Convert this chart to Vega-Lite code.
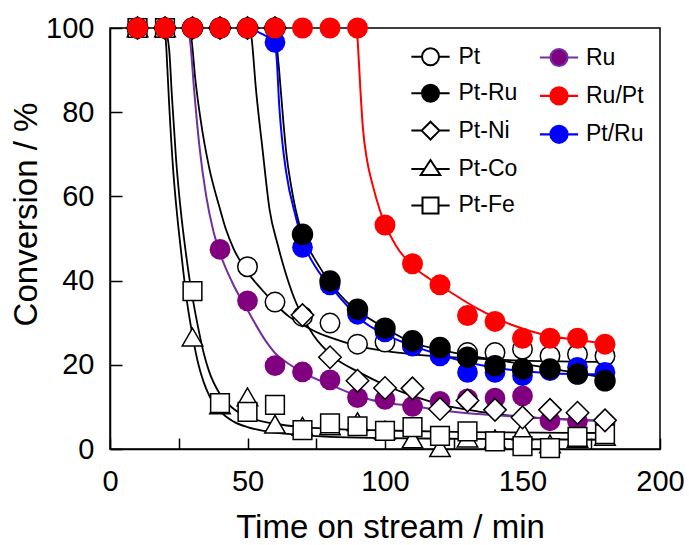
{
"$schema": "https://vega.github.io/schema/vega-lite/v6.json",
"width": 550, "height": 421,
"autosize": "none",
"padding": {"left": 110, "top": 28, "right": 29, "bottom": 96},
"config": {"font": "Liberation Sans", "view": {"stroke": "black", "strokeWidth": 1.5}},
"datasets": {
"pts": [
{"sample":"Ru","t":10,"conv":100},{"sample":"Ru","t":20,"conv":100},{"sample":"Ru","t":30,"conv":100},{"sample":"Ru","t":40,"conv":47.4},{"sample":"Ru","t":50,"conv":35.2},{"sample":"Ru","t":60,"conv":19.8},{"sample":"Ru","t":70,"conv":18.3},{"sample":"Ru","t":80,"conv":16.4},{"sample":"Ru","t":90,"conv":12.2},{"sample":"Ru","t":100,"conv":11.8},{"sample":"Ru","t":110,"conv":10.1},{"sample":"Ru","t":120,"conv":11.3},{"sample":"Ru","t":130,"conv":11.9},{"sample":"Ru","t":140,"conv":12.1},{"sample":"Ru","t":150,"conv":12.6},{"sample":"Ru","t":160,"conv":6.7},{"sample":"Ru","t":170,"conv":6.6},{"sample":"Ru","t":180,"conv":6.2},
{"sample":"Pt","t":10,"conv":100},{"sample":"Pt","t":20,"conv":100},{"sample":"Pt","t":30,"conv":100},{"sample":"Pt","t":40,"conv":100},{"sample":"Pt","t":50,"conv":43.3},{"sample":"Pt","t":60,"conv":34.9},{"sample":"Pt","t":70,"conv":31.5},{"sample":"Pt","t":80,"conv":29.9},{"sample":"Pt","t":90,"conv":24.9},{"sample":"Pt","t":100,"conv":25.4},{"sample":"Pt","t":110,"conv":24.5},{"sample":"Pt","t":120,"conv":23.3},{"sample":"Pt","t":130,"conv":22.9},{"sample":"Pt","t":140,"conv":22.9},{"sample":"Pt","t":150,"conv":23.7},{"sample":"Pt","t":160,"conv":22.1},{"sample":"Pt","t":170,"conv":22.5},{"sample":"Pt","t":180,"conv":22.1},
{"sample":"Pt-Co","t":10,"conv":100},{"sample":"Pt-Co","t":20,"conv":100},{"sample":"Pt-Co","t":30,"conv":26.6},{"sample":"Pt-Co","t":40,"conv":10.5},{"sample":"Pt-Co","t":50,"conv":12.4},{"sample":"Pt-Co","t":60,"conv":5.9},{"sample":"Pt-Co","t":70,"conv":5.4},{"sample":"Pt-Co","t":80,"conv":5.5},{"sample":"Pt-Co","t":90,"conv":6.5},{"sample":"Pt-Co","t":100,"conv":4.5},{"sample":"Pt-Co","t":110,"conv":2.4},{"sample":"Pt-Co","t":120,"conv":0.3},{"sample":"Pt-Co","t":130,"conv":2.6},{"sample":"Pt-Co","t":140,"conv":2.4},{"sample":"Pt-Co","t":150,"conv":4.3},{"sample":"Pt-Co","t":160,"conv":1.2},{"sample":"Pt-Co","t":170,"conv":2.5},{"sample":"Pt-Co","t":180,"conv":3},
{"sample":"Pt-Fe","t":10,"conv":100},{"sample":"Pt-Fe","t":20,"conv":100},{"sample":"Pt-Fe","t":30,"conv":37.5},{"sample":"Pt-Fe","t":40,"conv":10.9},{"sample":"Pt-Fe","t":50,"conv":8.8},{"sample":"Pt-Fe","t":60,"conv":10.5},{"sample":"Pt-Fe","t":70,"conv":4.5},{"sample":"Pt-Fe","t":80,"conv":6.1},{"sample":"Pt-Fe","t":90,"conv":5.4},{"sample":"Pt-Fe","t":100,"conv":4.3},{"sample":"Pt-Fe","t":110,"conv":5.2},{"sample":"Pt-Fe","t":120,"conv":3.1},{"sample":"Pt-Fe","t":130,"conv":4.2},{"sample":"Pt-Fe","t":140,"conv":1.8},{"sample":"Pt-Fe","t":150,"conv":0.7},{"sample":"Pt-Fe","t":160,"conv":0.2},{"sample":"Pt-Fe","t":170,"conv":2.9},{"sample":"Pt-Fe","t":180,"conv":3.5},
{"sample":"Pt-Ni","t":10,"conv":100},{"sample":"Pt-Ni","t":20,"conv":100},{"sample":"Pt-Ni","t":30,"conv":100},{"sample":"Pt-Ni","t":40,"conv":100},{"sample":"Pt-Ni","t":50,"conv":100},{"sample":"Pt-Ni","t":60,"conv":100},{"sample":"Pt-Ni","t":70,"conv":31.8},{"sample":"Pt-Ni","t":80,"conv":21.8},{"sample":"Pt-Ni","t":90,"conv":16.2},{"sample":"Pt-Ni","t":100,"conv":14.5},{"sample":"Pt-Ni","t":110,"conv":14.4},{"sample":"Pt-Ni","t":120,"conv":9.5},{"sample":"Pt-Ni","t":130,"conv":11.5},{"sample":"Pt-Ni","t":140,"conv":9.3},{"sample":"Pt-Ni","t":150,"conv":7.5},{"sample":"Pt-Ni","t":160,"conv":9.3},{"sample":"Pt-Ni","t":170,"conv":8.6},{"sample":"Pt-Ni","t":180,"conv":6.8},
{"sample":"Pt/Ru","t":10,"conv":100},{"sample":"Pt/Ru","t":20,"conv":100},{"sample":"Pt/Ru","t":30,"conv":100},{"sample":"Pt/Ru","t":40,"conv":100},{"sample":"Pt/Ru","t":50,"conv":100},{"sample":"Pt/Ru","t":60,"conv":96.6},{"sample":"Pt/Ru","t":70,"conv":47.9},{"sample":"Pt/Ru","t":80,"conv":39},{"sample":"Pt/Ru","t":90,"conv":32},{"sample":"Pt/Ru","t":100,"conv":27.8},{"sample":"Pt/Ru","t":110,"conv":24.5},{"sample":"Pt/Ru","t":120,"conv":22.1},{"sample":"Pt/Ru","t":130,"conv":18.2},{"sample":"Pt/Ru","t":140,"conv":18.2},{"sample":"Pt/Ru","t":150,"conv":17.4},{"sample":"Pt/Ru","t":160,"conv":18.6},{"sample":"Pt/Ru","t":170,"conv":19.4},{"sample":"Pt/Ru","t":180,"conv":18.2},
{"sample":"Pt-Ru","t":10,"conv":100},{"sample":"Pt-Ru","t":20,"conv":100},{"sample":"Pt-Ru","t":30,"conv":100},{"sample":"Pt-Ru","t":40,"conv":100},{"sample":"Pt-Ru","t":50,"conv":100},{"sample":"Pt-Ru","t":60,"conv":100},{"sample":"Pt-Ru","t":70,"conv":51},{"sample":"Pt-Ru","t":80,"conv":39.9},{"sample":"Pt-Ru","t":90,"conv":33.2},{"sample":"Pt-Ru","t":100,"conv":28.7},{"sample":"Pt-Ru","t":110,"conv":25.7},{"sample":"Pt-Ru","t":120,"conv":24.1},{"sample":"Pt-Ru","t":130,"conv":21.8},{"sample":"Pt-Ru","t":140,"conv":19.8},{"sample":"Pt-Ru","t":150,"conv":19},{"sample":"Pt-Ru","t":160,"conv":19},{"sample":"Pt-Ru","t":170,"conv":17.8},{"sample":"Pt-Ru","t":180,"conv":16.2},
{"sample":"Ru/Pt","t":10,"conv":100},{"sample":"Ru/Pt","t":20,"conv":100},{"sample":"Ru/Pt","t":30,"conv":100},{"sample":"Ru/Pt","t":40,"conv":100},{"sample":"Ru/Pt","t":50,"conv":100},{"sample":"Ru/Pt","t":60,"conv":100},{"sample":"Ru/Pt","t":70,"conv":100},{"sample":"Ru/Pt","t":80,"conv":100},{"sample":"Ru/Pt","t":90,"conv":100},{"sample":"Ru/Pt","t":100,"conv":53.2},{"sample":"Ru/Pt","t":110,"conv":44},{"sample":"Ru/Pt","t":120,"conv":39},{"sample":"Ru/Pt","t":130,"conv":31.7},{"sample":"Ru/Pt","t":140,"conv":30.3},{"sample":"Ru/Pt","t":150,"conv":26.3},{"sample":"Ru/Pt","t":160,"conv":26.3},{"sample":"Ru/Pt","t":170,"conv":26.3},{"sample":"Ru/Pt","t":180,"conv":24.9}
],
"fit": [
{"sample":"Pt","t":29,"conv":100},{"sample":"Pt","t":29.7,"conv":97},{"sample":"Pt","t":31,"conv":88},{"sample":"Pt","t":33,"conv":78},{"sample":"Pt","t":36,"conv":67},{"sample":"Pt","t":40,"conv":57},{"sample":"Pt","t":42,"conv":52.5},{"sample":"Pt","t":45,"conv":47.5},{"sample":"Pt","t":50,"conv":42},{"sample":"Pt","t":55,"conv":38},{"sample":"Pt","t":60,"conv":34.5},{"sample":"Pt","t":65,"conv":31.5},{"sample":"Pt","t":70,"conv":29.5},{"sample":"Pt","t":75,"conv":27.8},{"sample":"Pt","t":80,"conv":26.5},{"sample":"Pt","t":90,"conv":24.5},{"sample":"Pt","t":100,"conv":23.3},{"sample":"Pt","t":110,"conv":22.5},{"sample":"Pt","t":120,"conv":22},{"sample":"Pt","t":135,"conv":21.4},{"sample":"Pt","t":150,"conv":21},{"sample":"Pt","t":182,"conv":20.7},
{"sample":"Pt-Ru","t":60,"conv":100},{"sample":"Pt-Ru","t":60.5,"conv":97},{"sample":"Pt-Ru","t":61.5,"conv":90},{"sample":"Pt-Ru","t":63,"conv":78},{"sample":"Pt-Ru","t":64,"conv":71},{"sample":"Pt-Ru","t":66,"conv":62},{"sample":"Pt-Ru","t":69,"conv":53},{"sample":"Pt-Ru","t":70,"conv":51},{"sample":"Pt-Ru","t":75,"conv":44.5},{"sample":"Pt-Ru","t":81,"conv":38.7},{"sample":"Pt-Ru","t":86,"conv":35},{"sample":"Pt-Ru","t":91,"conv":32.4},{"sample":"Pt-Ru","t":100,"conv":28.7},{"sample":"Pt-Ru","t":110,"conv":25.3},{"sample":"Pt-Ru","t":122,"conv":23.3},{"sample":"Pt-Ru","t":134,"conv":21.8},{"sample":"Pt-Ru","t":146,"conv":20.6},{"sample":"Pt-Ru","t":158,"conv":19.4},{"sample":"Pt-Ru","t":170,"conv":18},{"sample":"Pt-Ru","t":182,"conv":16.7},
{"sample":"Pt-Ni","t":51,"conv":100},{"sample":"Pt-Ni","t":51.6,"conv":97},{"sample":"Pt-Ni","t":53,"conv":86},{"sample":"Pt-Ni","t":55.5,"conv":71},{"sample":"Pt-Ni","t":58,"conv":57},{"sample":"Pt-Ni","t":61,"conv":48.5},{"sample":"Pt-Ni","t":64,"conv":41.5},{"sample":"Pt-Ni","t":67,"conv":35.8},{"sample":"Pt-Ni","t":70,"conv":31.5},{"sample":"Pt-Ni","t":74,"conv":27},{"sample":"Pt-Ni","t":81,"conv":22},{"sample":"Pt-Ni","t":90.7,"conv":18.2},{"sample":"Pt-Ni","t":100,"conv":15.2},{"sample":"Pt-Ni","t":110,"conv":12.6},{"sample":"Pt-Ni","t":122,"conv":10.3},{"sample":"Pt-Ni","t":134,"conv":8.9},{"sample":"Pt-Ni","t":146,"conv":7.9},{"sample":"Pt-Ni","t":160,"conv":7.2},{"sample":"Pt-Ni","t":182,"conv":6.7},
{"sample":"Pt-Co","t":20,"conv":100},{"sample":"Pt-Co","t":20.5,"conv":95},{"sample":"Pt-Co","t":21.5,"conv":82},{"sample":"Pt-Co","t":23,"conv":66},{"sample":"Pt-Co","t":24.5,"conv":55},{"sample":"Pt-Co","t":26,"conv":46},{"sample":"Pt-Co","t":28,"conv":35},{"sample":"Pt-Co","t":30,"conv":27},{"sample":"Pt-Co","t":32,"conv":20.5},{"sample":"Pt-Co","t":34,"conv":16},{"sample":"Pt-Co","t":36,"conv":12.8},{"sample":"Pt-Co","t":40,"conv":9},{"sample":"Pt-Co","t":45,"conv":6.5},{"sample":"Pt-Co","t":50,"conv":5.2},{"sample":"Pt-Co","t":60,"conv":3.9},{"sample":"Pt-Co","t":70,"conv":3.3},{"sample":"Pt-Co","t":80,"conv":2.9},{"sample":"Pt-Co","t":100,"conv":2.6},{"sample":"Pt-Co","t":130,"conv":2.4},{"sample":"Pt-Co","t":182,"conv":2.2},
{"sample":"Pt-Fe","t":20,"conv":100},{"sample":"Pt-Fe","t":21.5,"conv":95},{"sample":"Pt-Fe","t":22.5,"conv":84},{"sample":"Pt-Fe","t":24,"conv":69},{"sample":"Pt-Fe","t":26,"conv":55},{"sample":"Pt-Fe","t":27.5,"conv":47},{"sample":"Pt-Fe","t":29,"conv":40},{"sample":"Pt-Fe","t":30,"conv":36},{"sample":"Pt-Fe","t":32,"conv":29},{"sample":"Pt-Fe","t":34,"conv":23},{"sample":"Pt-Fe","t":36,"conv":18.5},{"sample":"Pt-Fe","t":40,"conv":13},{"sample":"Pt-Fe","t":45,"conv":9.5},{"sample":"Pt-Fe","t":50,"conv":7.6},{"sample":"Pt-Fe","t":60,"conv":6},{"sample":"Pt-Fe","t":70,"conv":5.2},{"sample":"Pt-Fe","t":80,"conv":4.8},{"sample":"Pt-Fe","t":100,"conv":4.4},{"sample":"Pt-Fe","t":130,"conv":4},{"sample":"Pt-Fe","t":182,"conv":3.8},
{"sample":"Ru","t":28.5,"conv":100},{"sample":"Ru","t":29.3,"conv":96},{"sample":"Ru","t":30.5,"conv":86},{"sample":"Ru","t":32.5,"conv":72},{"sample":"Ru","t":35,"conv":60},{"sample":"Ru","t":37.5,"conv":52},{"sample":"Ru","t":40,"conv":46.5},{"sample":"Ru","t":44.5,"conv":39.5},{"sample":"Ru","t":50,"conv":33},{"sample":"Ru","t":56.8,"conv":25.5},{"sample":"Ru","t":60,"conv":22.8},{"sample":"Ru","t":66.5,"conv":19.6},{"sample":"Ru","t":70,"conv":18.2},{"sample":"Ru","t":81,"conv":15},{"sample":"Ru","t":93,"conv":12},{"sample":"Ru","t":100,"conv":11},{"sample":"Ru","t":110,"conv":10.2},{"sample":"Ru","t":120,"conv":9.2},{"sample":"Ru","t":134,"conv":8.3},{"sample":"Ru","t":150,"conv":7.6},{"sample":"Ru","t":160,"conv":7.2},{"sample":"Ru","t":182,"conv":6.6},
{"sample":"Pt/Ru","t":51,"conv":100},{"sample":"Pt/Ru","t":53,"conv":99.3},{"sample":"Pt/Ru","t":56.5,"conv":98.2},{"sample":"Pt/Ru","t":60,"conv":96.6},{"sample":"Pt/Ru","t":60.7,"conv":92},{"sample":"Pt/Ru","t":61.5,"conv":82},{"sample":"Pt/Ru","t":62.5,"conv":74},{"sample":"Pt/Ru","t":64,"conv":66},{"sample":"Pt/Ru","t":67.5,"conv":55.3},{"sample":"Pt/Ru","t":70,"conv":49.5},{"sample":"Pt/Ru","t":75,"conv":43},{"sample":"Pt/Ru","t":81,"conv":38},{"sample":"Pt/Ru","t":86,"conv":34.2},{"sample":"Pt/Ru","t":90.7,"conv":31},{"sample":"Pt/Ru","t":100,"conv":27.2},{"sample":"Pt/Ru","t":110,"conv":24.5},{"sample":"Pt/Ru","t":120,"conv":22.4},{"sample":"Pt/Ru","t":130,"conv":20.6},{"sample":"Pt/Ru","t":140,"conv":19.3},{"sample":"Pt/Ru","t":150,"conv":18.5},{"sample":"Pt/Ru","t":160,"conv":18},{"sample":"Pt/Ru","t":170,"conv":17.8},{"sample":"Pt/Ru","t":182,"conv":17.7},
{"sample":"Ru/Pt","t":89.5,"conv":100},{"sample":"Ru/Pt","t":90,"conv":97.5},{"sample":"Ru/Pt","t":90.5,"conv":92},{"sample":"Ru/Pt","t":91,"conv":86},{"sample":"Ru/Pt","t":92,"conv":76},{"sample":"Ru/Pt","t":93.5,"conv":68.5},{"sample":"Ru/Pt","t":95.6,"conv":62.5},{"sample":"Ru/Pt","t":98,"conv":57},{"sample":"Ru/Pt","t":100,"conv":53.4},{"sample":"Ru/Pt","t":104,"conv":48.3},{"sample":"Ru/Pt","t":110,"conv":43.5},{"sample":"Ru/Pt","t":116,"conv":40.5},{"sample":"Ru/Pt","t":122,"conv":38},{"sample":"Ru/Pt","t":134,"conv":33.2},{"sample":"Ru/Pt","t":146,"conv":29.5},{"sample":"Ru/Pt","t":158,"conv":27.1},{"sample":"Ru/Pt","t":170,"conv":25.9},{"sample":"Ru/Pt","t":182,"conv":24.9}
]
},
"layer": [
{
"data": {"name": "fit"},
"transform": [{"filter": {"field": "sample", "oneOf": ["Pt","Pt-Ru","Pt-Ni","Pt-Co","Pt-Fe"]}}],
"mark": {"type": "line", "color": "black", "strokeWidth": 1.8, "interpolate": "monotone"},
"encoding": {
"x": {"field": "t", "type": "quantitative", "scale": {"domain": [0, 200]},
 "axis": {"values": [0,25,50,75,100,125,150,175,200], "labelExpr": "datum.value % 50 === 0 ? datum.label : ''", "grid": false, "tickSize": -11, "labelPadding": 29, "labelFontSize": 29, "labelColor": "black", "labelFlush": false, "labelOverlap": false, "domainColor": "black", "domainWidth": 1.5, "tickColor": "black", "tickWidth": 1.5, "title": "Time on stream / min", "titleFontSize": 33, "titleFontWeight": "normal", "titleColor": "black", "titlePadding": 15, "titleX": 280,
  "encode": {"ticks": {"update": {"y2": {"signal": "datum.value % 50 === 0 ? -11 : -6"}}}}}},
"y": {"field": "conv", "type": "quantitative", "scale": {"domain": [0, 100]},
 "axis": {"values": [0,20,40,60,80,100], "grid": false, "tickSize": -12, "labelPadding": 28, "labelFontSize": 29, "labelColor": "black", "labelFlush": false, "labelOverlap": false, "domainColor": "black", "domainWidth": 1.5, "tickColor": "black", "tickWidth": 1.5, "title": "Conversion / %", "titleFontSize": 33, "titleFontWeight": "normal", "titleColor": "black", "titlePadding": 2, "titleY": 186}},
"detail": {"field": "sample"}
}
},
{
"data": {"name": "fit"},
"transform": [{"filter": {"field": "sample", "oneOf": ["Ru","Ru/Pt","Pt/Ru"]}}],
"mark": {"type": "line", "strokeWidth": 2, "interpolate": "monotone"},
"encoding": {
"x": {"field": "t", "type": "quantitative"},
"y": {"field": "conv", "type": "quantitative"},
"stroke": {"field": "sample", "type": "nominal", "scale": {"domain": ["Pt/Ru","Ru","Ru/Pt"], "range": ["#0000FF","#7030A0","#FF0000"]}, "legend": null}
}
},
{
"data": {"name": "pts"},
"transform": [{"filter": {"field": "sample", "equal": "Ru"}}],
"mark": {"type": "point", "shape": "circle", "filled": true, "opacity": 1, "size": 430, "strokeWidth": 0},
"encoding": {
"x": {"field": "t", "type": "quantitative"},
"y": {"field": "conv", "type": "quantitative"},
"color": {"field": "sample", "type": "nominal", "scale": {"domain": ["Ru","Ru/Pt","Pt/Ru"], "range": ["#800080","#FF0000","#0000FF"]},
 "legend": {"orient": "none", "legendX": 437.5, "legendY": 18, "title": null, "padding": 0, "labelFontSize": 23, "labelColor": "black", "labelOffset": 15.5, "rowPadding": 11.4, "symbolSize": 289, "symbolOpacity": 1,
  "encode": {"symbols": {"update": {"shape": {"value": "M-2.25,0H-1M1,0H2.25M-1,0A1,1,0,1,1,1,0A1,1,0,1,1,-1,0Z"}, "fill": {"scale": "stroke", "field": "value"}, "stroke": {"scale": "stroke", "field": "value"}, "strokeWidth": {"value": 2.2}, "opacity": {"value": 1}}}}}}
}
},
{
"data": {"name": "pts"},
"transform": [{"filter": {"field": "sample", "equal": "Pt"}}],
"mark": {"type": "point", "shape": "circle", "filled": true, "fill": "white", "stroke": "black", "strokeWidth": 1.5, "opacity": 1, "size": 380},
"encoding": {"x": {"field": "t", "type": "quantitative"}, "y": {"field": "conv", "type": "quantitative"}}
},
{
"data": {"name": "pts"},
"transform": [{"filter": {"field": "sample", "equal": "Pt-Co"}}],
"mark": {"type": "point", "shape": "triangle-up", "filled": true, "fill": "white", "stroke": "black", "strokeWidth": 1.5, "opacity": 1, "size": 420},
"encoding": {"x": {"field": "t", "type": "quantitative"}, "y": {"field": "conv", "type": "quantitative"}}
},
{
"data": {"name": "pts"},
"transform": [{"filter": {"field": "sample", "equal": "Pt-Fe"}}],
"mark": {"type": "point", "shape": "square", "filled": true, "fill": "white", "stroke": "black", "strokeWidth": 1.5, "opacity": 1, "size": 350},
"encoding": {"x": {"field": "t", "type": "quantitative"}, "y": {"field": "conv", "type": "quantitative"}}
},
{
"data": {"name": "pts"},
"transform": [{"filter": {"field": "sample", "equal": "Pt-Ni"}}],
"mark": {"type": "point", "shape": "diamond", "filled": true, "fill": "white", "stroke": "black", "strokeWidth": 1.5, "opacity": 1, "size": 506},
"encoding": {"x": {"field": "t", "type": "quantitative"}, "y": {"field": "conv", "type": "quantitative"}}
},
{
"data": {"name": "pts"},
"transform": [{"filter": {"field": "sample", "equal": "Pt/Ru"}}],
"mark": {"type": "point", "shape": "circle", "filled": true, "opacity": 1, "size": 430, "strokeWidth": 0},
"encoding": {
"x": {"field": "t", "type": "quantitative"},
"y": {"field": "conv", "type": "quantitative"},
"color": {"field": "sample", "type": "nominal"}
}
},
{
"data": {"name": "pts"},
"transform": [{"filter": {"field": "sample", "equal": "Pt-Ru"}}],
"mark": {"type": "point", "shape": "circle", "filled": true, "fill": "black", "stroke": "black", "strokeWidth": 1.5, "opacity": 1, "size": 400},
"encoding": {"x": {"field": "t", "type": "quantitative"}, "y": {"field": "conv", "type": "quantitative"}}
},
{
"data": {"name": "pts"},
"transform": [{"filter": {"field": "sample", "equal": "Ru/Pt"}}],
"mark": {"type": "point", "shape": "circle", "filled": true, "opacity": 1, "size": 441, "strokeWidth": 0},
"encoding": {
"x": {"field": "t", "type": "quantitative"},
"y": {"field": "conv", "type": "quantitative"},
"color": {"field": "sample", "type": "nominal"}
}
},
{
"data": {"name": "pts"},
"transform": [{"filter": {"field": "sample", "equal": "none"}}],
"mark": {"type": "point", "filled": true, "stroke": "black", "strokeWidth": 1.5, "opacity": 1},
"encoding": {
"x": {"field": "t", "type": "quantitative"},
"y": {"field": "conv", "type": "quantitative"},
"shape": {"field": "sample", "type": "nominal", "scale": {"domain": ["Pt","Pt-Ru","Pt-Ni","Pt-Co","Pt-Fe"], "range": ["M-2.25,0H-1M1,0H2.25M-1,0A1,1,0,1,1,1,0A1,1,0,1,1,-1,0Z","M-2.25,0H-1M1,0H2.25M-1,0A1,1,0,1,1,1,0A1,1,0,1,1,-1,0Z","M-2.25,0H-1.05M1.05,0H2.25M-1.05,0L0,-1.05L1.05,0L0,1.05Z","M-2.25,0H-0.69M0.69,0H2.25M0,-1.06L1.15,0.7L-1.15,0.7Z","M-2.25,0H-0.94M0.94,0H2.25M-0.94,-0.94H0.94V0.94H-0.94Z"]},
 "legend": {"orient": "none", "legendX": 309, "legendY": 17.3, "title": null, "padding": 0, "labelFontSize": 23, "labelColor": "black", "labelOffset": 16.5, "rowPadding": 11.4, "symbolSize": 289, "symbolOpacity": 1, "symbolStrokeColor": "black", "symbolStrokeWidth": 2,
  "encode": {"symbols": {"update": {"stroke": {"value": "black"}, "strokeWidth": {"value": 2}, "opacity": {"value": 1}}}}}},
"fill": {"field": "sample", "type": "nominal", "scale": {"domain": ["Pt","Pt-Ru","Pt-Ni","Pt-Co","Pt-Fe"], "range": ["white","black","white","white","white"]},
 "legend": {"orient": "none", "legendX": 309, "legendY": 17.3, "title": null, "padding": 0, "labelFontSize": 23, "labelColor": "black", "labelOffset": 16.5, "rowPadding": 11.4, "symbolSize": 289, "symbolOpacity": 1, "symbolStrokeColor": "black", "symbolStrokeWidth": 2,
  "encode": {"symbols": {"update": {"stroke": {"value": "black"}, "strokeWidth": {"value": 2}, "opacity": {"value": 1}}}}}}
}
}
]
}
